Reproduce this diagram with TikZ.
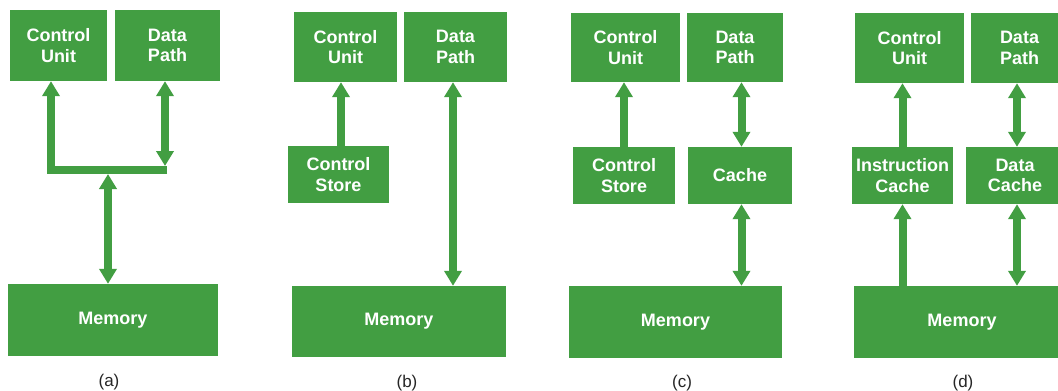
\documentclass[tikz,border=0pt]{standalone}
\usepackage{fontspec}
\setmainfont{Liberation Sans}
\usetikzlibrary{arrows.meta}
\definecolor{boxgreen}{RGB}{66,158,66}
\tikzset{
  box/.style={fill=boxgreen, text=white, align=center, inner sep=0pt,
    font=\bfseries\fontsize{18}{20.5}\selectfont},
  link/.style={draw=boxgreen, line width=8pt, line join=miter},
  sgl/.style={link, -{Triangle[width=17pt,length=15pt]}},
  dbl/.style={link, {Triangle[width=17pt,length=15pt]}-{Triangle[width=17pt,length=15pt]}},
  panellabel/.style={font=\fontsize{17}{20}\selectfont, text=black!85}
}
\begin{document}
\begin{tikzpicture}[x=1pt,y=-1pt]
\useasboundingbox (0,0) rectangle (1058,391);
\fill[white] (0,0) rectangle (1058,391);
\clip (0,0) rectangle (1058,391);

% ---------- (a)
\node[box, minimum width=97pt, minimum height=71pt] (acu) at (58.5,45.5) {Control\\Unit};
\node[box, minimum width=105pt, minimum height=71pt] (adp) at (167.5,45.5) {Data\\Path};
\node[box, minimum width=210pt, minimum height=72pt] (amem) at (113,320) {Memory};
\node[panellabel] (la) at (109,382) {(a)};
\coordinate (barR) at (167,170);
\coordinate (barL) at (51,170);
\coordinate (barM) at (108,174);
\coordinate (dpTip) at (165,166);
\draw[sgl, line width=8.5pt] (barR) -- (barL) -- (barL |- acu.south);
\draw[dbl] (dpTip |- adp.south) -- (dpTip);
\draw[dbl] (barM) -- (barM |- amem.north);

% ---------- (b)
\node[box, minimum width=103pt, minimum height=70pt] (bcu) at (345.5,47) {Control\\Unit};
\node[box, minimum width=103pt, minimum height=70pt] (bdp) at (455.5,47) {Data\\Path};
\node[box, minimum width=101pt, minimum height=57pt] (bcs) at (338.5,174.5) {Control\\Store};
\node[box, minimum width=214pt, minimum height=71pt] (bmem) at (399,321.5) {Memory};
\node[panellabel] (lb) at (407,383) {(b)};
\coordinate (bx1) at (341,0);
\coordinate (bx2) at (453,0);
\draw[sgl] (bx1 |- bcs.north) -- (bx1 |- bcu.south);
\draw[dbl] (bx2 |- bdp.south) -- (bx2 |- bmem.north);

% ---------- (c)
\node[box, minimum width=109pt, minimum height=69pt] (ccu) at (625.5,47.5) {Control\\Unit};
\node[box, minimum width=96pt, minimum height=69pt] (cdp) at (735,47.5) {Data\\Path};
\node[box, minimum width=102pt, minimum height=57pt] (ccs) at (624,175.5) {Control\\Store};
\node[box, minimum width=104pt, minimum height=57pt] (cca) at (740,175.5) {Cache};
\node[box, minimum width=213pt, minimum height=72pt] (cmem) at (675.5,322) {Memory};
\node[panellabel] (lc) at (682,383) {(c)};
\coordinate (cx2) at (741.5,0);
\draw[sgl] (ccs.north) -- (ccs.north |- ccu.south);
\draw[dbl] (cx2 |- cdp.south) -- (cx2 |- cca.north);
\draw[dbl] (cx2 |- cca.south) -- (cx2 |- cmem.north);

% ---------- (d)
\node[box, minimum width=109pt, minimum height=70pt] (dcu) at (909.5,48) {Control\\Unit};
\node[box, minimum width=97pt, minimum height=70pt] (ddp) at (1019.5,48) {Data\\Path};
\node[box, minimum width=101pt, minimum height=57pt] (dic) at (902.5,175.5) {Instruction\\Cache};
\node[box, minimum width=98pt, minimum height=57pt] (ddc) at (1015,175.5) {Data\\Cache};
\node[box, minimum width=216pt, minimum height=72pt] (dmem) at (962,322) {Memory};
\node[panellabel] (ld) at (963,383) {(d)};
\coordinate (dx2) at (1017,0);
\draw[sgl] (dic.north) -- (dic.north |- dcu.south);
\draw[sgl] (dic.south |- dmem.north) -- (dic.south);
\draw[dbl] (dx2 |- ddp.south) -- (dx2 |- ddc.north);
\draw[dbl] (dx2 |- ddc.south) -- (dx2 |- dmem.north);
\end{tikzpicture}
\end{document}
